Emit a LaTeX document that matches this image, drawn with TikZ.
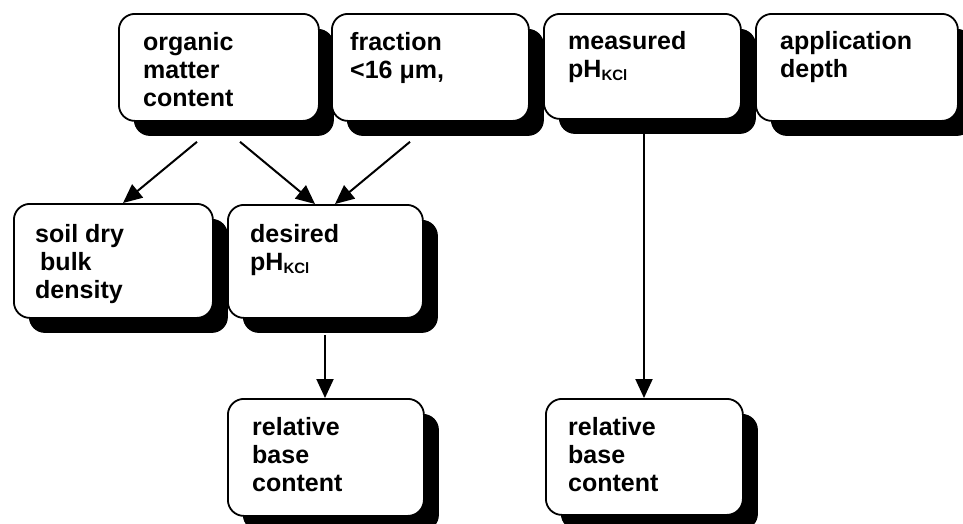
\documentclass[tikz,border=0pt]{standalone}
\usepackage{fontspec}
\setmainfont{Liberation Sans}
\usetikzlibrary{shadows,arrows.meta,calc}
\newcommand{\kcl}{pH\raisebox{-3pt}{\fontsize{15}{15}\selectfont KCl}}
\begin{document}
\begin{tikzpicture}[x=1pt,y=-1pt,
  box/.style={draw=black, line width=1.8pt, fill=white, rounded corners=16pt, anchor=north west, inner sep=0pt,
    drop shadow={shadow xshift=15pt, shadow yshift=-15pt, opacity=1, fill=black}},
  lbl/.style={anchor=north west, inner sep=0pt, align=left, font=\bfseries\fontsize{25}{28}\selectfont},
  arr/.style={line width=2pt, -{Triangle[length=19pt,width=17pt]}}]
\useasboundingbox (0,0) rectangle (963,523);
\clip (0,0) rectangle (963,523);
% top row
\node[box, minimum width=200pt, minimum height=107pt] (b1) at (118,13) {};
\node[lbl] (t1) at ($(b1.north west)+(25,19)$) {organic\\matter\\content};
\node[box, minimum width=197pt, minimum height=107pt] (b2) at (331,13) {};
\node[lbl] (t2) at ($(b2.north west)+(19,19)$) {fraction\\<16 μm,};
\node[box, minimum width=197pt, minimum height=105pt] (b3) at (543,13) {};
\node[lbl] (t3) at ($(b3.north west)+(25,18)$) {measured\\\kcl};
\node[box, minimum width=202pt, minimum height=107pt] (b4) at (755,13) {};
\node[lbl] (t4) at ($(b4.north west)+(25,18)$) {application\\depth};
% middle row
\node[box, minimum width=199pt, minimum height=114pt] (soil) at (13,203) {};
\node[lbl] (t5) at ($(soil.north west)+(22,21)$) {soil dry\\\hspace{5pt}bulk\\density};
\node[box, minimum width=195pt, minimum height=113pt] (des) at (227,204) {};
\node[lbl] (t6) at ($(des.north west)+(23,20)$) {desired\\\kcl};
% bottom row
\node[box, minimum width=196pt, minimum height=117pt] (rel1) at (227,398) {};
\node[lbl] (t7) at ($(rel1.north west)+(25,19)$) {relative\\base\\content};
\node[box, minimum width=197pt, minimum height=116pt] (rel2) at (545,398) {};
\node[lbl] (t8) at ($(rel2.north west)+(23,19)$) {relative\\base\\content};
% connectors
\draw[arr] ($(b1.south west)+(79,20)$) -- ($(soil.north west)+(110,0)$);
\draw[arr] ($(b1.south west)+(122,20)$) -- ($(des.north west)+(88,0)$);
\draw[arr] ($(b2.south west)+(79,20)$) -- ($(des.north west)+(108,0)$);
\draw[arr] ($(des.south west)+(98,16)$) -- ($(rel1.north west)+(98,0)$);
\draw[arr] ($(b3.south west)+(101,14)$) -- ($(rel2.north west)+(99,0)$);
\end{tikzpicture}
\end{document}
